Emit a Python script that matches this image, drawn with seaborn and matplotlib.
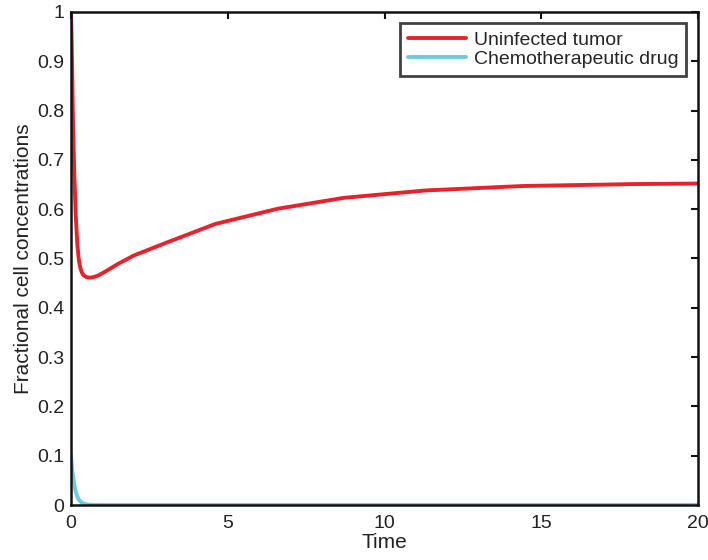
import numpy as np
import pandas as pd
import matplotlib
matplotlib.use("Agg")
import matplotlib.pyplot as plt
import seaborn as sns

# Solver output: time points and the two state variables
time = [0.0, 0.02, 0.04, 0.06, 0.1, 0.15, 0.2, 0.25, 0.3, 0.35, 0.4, 0.5, 0.6, 0.7,
        0.85, 1.0, 1.5, 2.0, 3.0, 4.6, 6.6, 8.7, 11.3, 14.4, 18.0, 20.0]
uninfected_tumor = [1.0, 0.94, 0.87, 0.79, 0.68, 0.59, 0.53, 0.497, 0.480, 0.471,
                    0.466, 0.462, 0.461, 0.462, 0.465, 0.470, 0.489, 0.506, 0.531,
                    0.570, 0.601, 0.623, 0.638, 0.647, 0.651, 0.652]
chemo_drug = [0.10, 0.085, 0.072, 0.060, 0.042, 0.027, 0.017, 0.011, 0.007, 0.0045,
              0.003, 0.0013, 0.0006, 0.0003, 0.0001, 0.0, 0.0, 0.0, 0.0, 0.0, 0.0,
              0.0, 0.0, 0.0, 0.0, 0.0]

series_names = ["Uninfected tumor", "Chemotherapeutic drug"]
series_colors = ["#e8222b", "#6ccbdc"]

df = pd.concat([
    pd.DataFrame({"Time": time, "value": uninfected_tumor, "series": series_names[0]}),
    pd.DataFrame({"Time": time, "value": chemo_drug, "series": series_names[1]}),
])

sns.set_style("white")
plt.rcParams["font.family"] = ["Liberation Sans", "DejaVu Sans"]

fig = plt.figure(figsize=(7.08, 5.6), dpi=100)
ax = fig.add_axes([0.1003, 0.0982, 0.8856, 0.8804])

sns.lineplot(data=df, x="Time", y="value", hue="series", hue_order=series_names,
             palette=series_colors, linewidth=2.8, ax=ax, sort=False)

ax.set_xlim(0, 20)
ax.set_ylim(0, 1)
ax.set_xticks([0, 5, 10, 15, 20])
ax.set_xticklabels(["0", "5", "10", "15", "20"])
ax.set_yticks(np.arange(0, 1.01, 0.1))
ax.set_yticklabels(["0", "0.1", "0.2", "0.3", "0.4", "0.5", "0.6", "0.7", "0.8", "0.9", "1"])
ax.set_xlabel("Time", fontsize=15, color="#222222", labelpad=1)
ax.set_ylabel("Fractional cell concentrations", fontsize=15, color="#222222", labelpad=3)

ax.tick_params(axis="both", direction="in", length=5, width=1.5, top=True, right=True,
               labelsize=14, colors="#111111", labelcolor="#222222")
ax.tick_params(axis="x", pad=7)
ax.tick_params(axis="y", pad=5)
for side in ["left", "right", "top", "bottom"]:
    ax.spines[side].set_visible(True)
    ax.spines[side].set_color("#111111")
    ax.spines[side].set_linewidth(1.8)

leg = ax.legend(loc="upper right", bbox_to_anchor=(0.9875, 0.985), fontsize=14,
                frameon=True, fancybox=False, edgecolor="#111111",
                handlelength=3.0, handletextpad=0.4, borderpad=0.4,
                labelspacing=0.08, borderaxespad=0.2)
leg.get_frame().set_linewidth(2.0)
for line in leg.get_lines():
    line.set_linewidth(2.8)

fig.savefig("out.png", dpi=100, facecolor="white")
